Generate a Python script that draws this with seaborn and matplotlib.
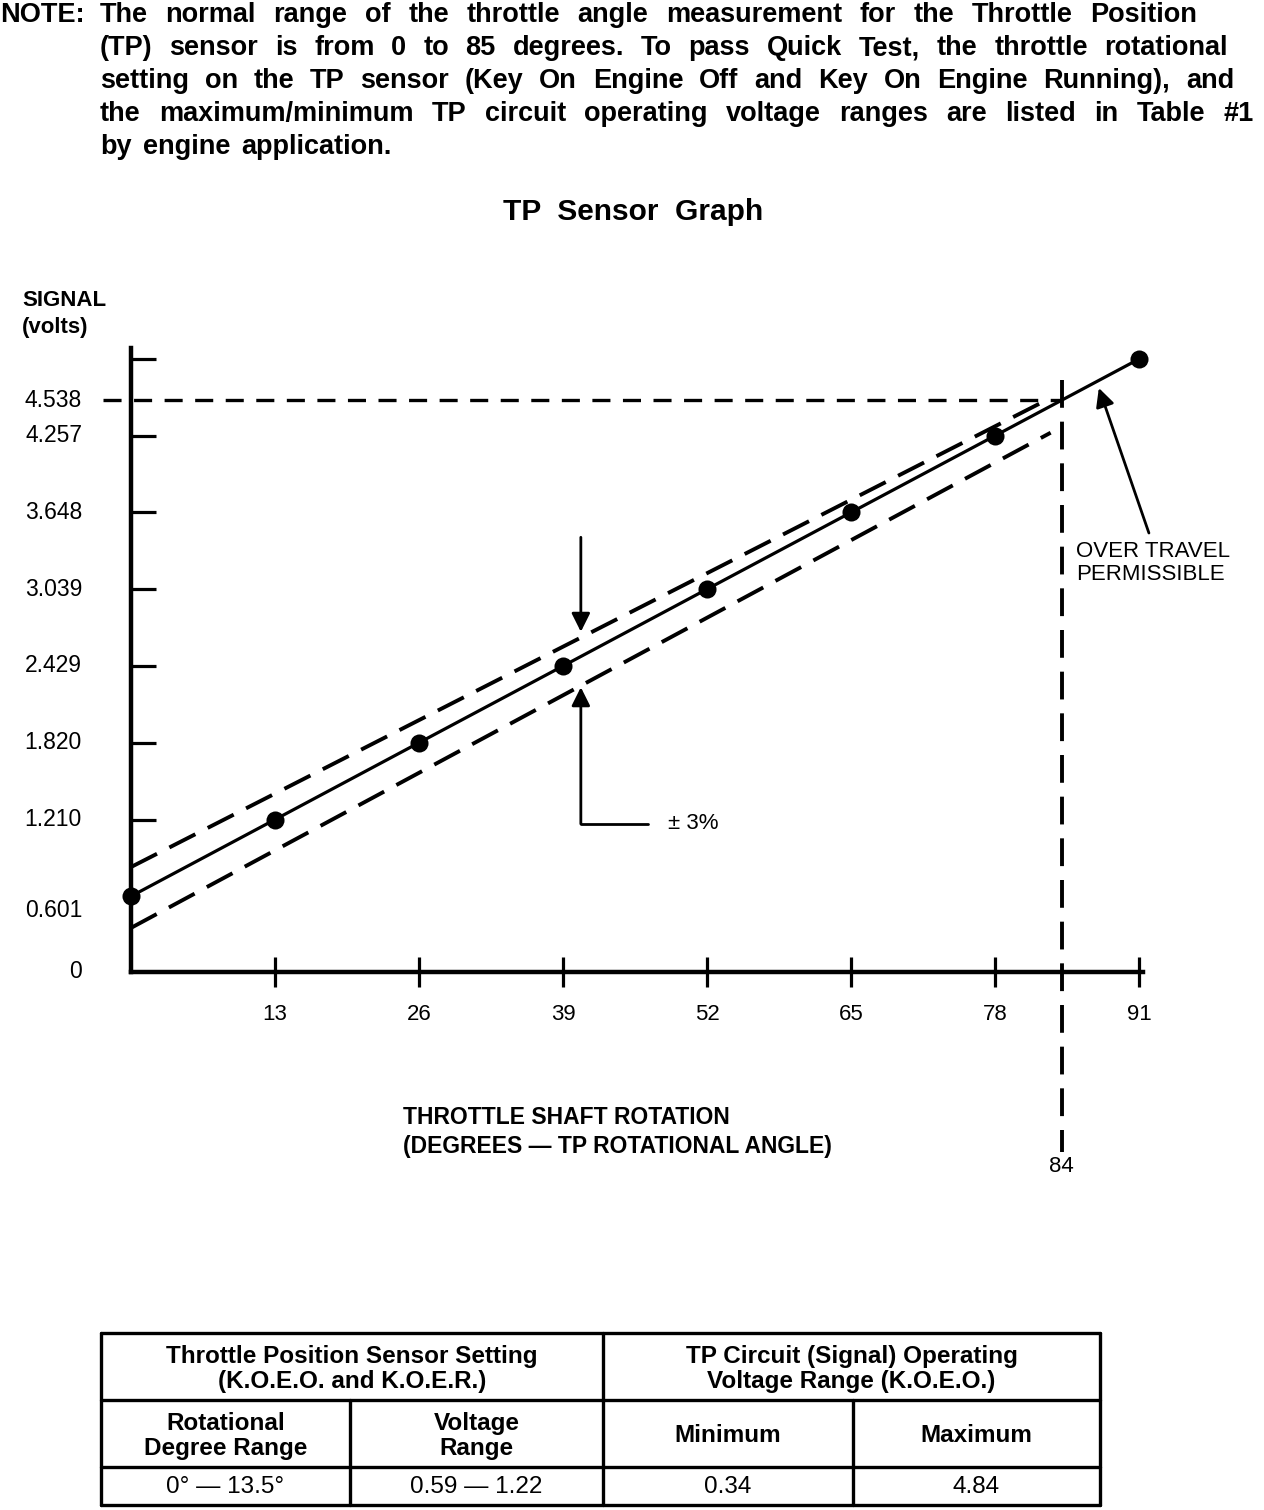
import matplotlib
matplotlib.use("Agg")
import matplotlib.pyplot as plt
import matplotlib.transforms as mtransforms
import seaborn as sns
import pandas as pd

grados = [0, 13, 26, 39, 52, 65, 78, 91]
voltios = [0.601, 1.210, 1.820, 2.429, 3.039, 3.648, 4.257, 4.866]

# bandas de +/- 3%
banda_sup_x = [0, 82.6]
banda_sup_y = [0.833, 4.538]
banda_inf_x = [0, 83.0]
banda_inf_y = [0.35, 4.28]

limite_v = 4.538
limite_grados = 84

x_marcas = [13, 26, 39, 52, 65, 78, 91]
y_marcas = [1.210, 1.820, 2.429, 3.039, 3.648, 4.257, 4.866]
y_etiquetas = ["0", "0.601", "1.210", "1.820", "2.429", "3.039", "3.648", "4.257", "4.538"]
y_valores = [0, 0.601, 1.210, 1.820, 2.429, 3.039, 3.648, 4.257, 4.538]

nota = ["The normal range of the throttle angle measurement for the Throttle Position",
        "(TP) sensor is from 0 to 85 degrees. To pass Quick Test, the throttle rotational",
        "setting on the TP sensor (Key On Engine Off and Key On Engine Running), and",
        "the maximum/minimum TP circuit operating voltage ranges are listed in Table #1",
        "by engine application."]
nota_fin = [1197, 1228, 1234, 1254, 392]

tabla_cab1 = ["Throttle Position Sensor Setting\n(K.O.E.O. and K.O.E.R.)",
              "TP Circuit (Signal) Operating\nVoltage Range (K.O.E.O.)"]
tabla_cab2 = ["Rotational\nDegree Range", "Voltage\nRange", "Minimum", "Maximum"]
tabla_fila = ["0\u00b0 \u2014 13.5\u00b0", "0.59 \u2014 1.22", "0.34", "4.84"]

sns.set_theme(style="white")
plt.rcParams['font.family'] = ['Liberation Sans', 'DejaVu Sans']
plt.rcParams['lines.scale_dashes'] = False
plt.rcParams['text.color'] = 'black'
plt.rcParams['xtick.color'] = 'black'
plt.rcParams['ytick.color'] = 'black'
plt.rcParams['xtick.labelcolor'] = 'black'

W, H = 1264, 1510
fig = plt.figure(figsize=(W / 100, H / 100), dpi=100)

# ejes principales: 0 grados en x=131 px, 0 V en y=972 px
ax = fig.add_axes([131 / W, (H - 972) / H, 1011.6 / W, 623.7 / H])
ax.set_xlim(0, 91.3)
ax.set_ylim(0, 4.95)
ax.set_facecolor("none")

# capa en pixeles para textos y tabla
axf = fig.add_axes([0, 0, 1, 1], zorder=-1)
axf.set_xlim(0, W)
axf.set_ylim(H, 0)
axf.axis("off")

df = pd.DataFrame({"grados": grados, "voltios": voltios})
sns.lineplot(data=df, x="grados", y="voltios", color="black", lw=2.3, marker="o",
             markersize=13, markeredgewidth=0, clip_on=False, ax=ax)

ax.plot(banda_sup_x, banda_sup_y, color="black", lw=2.8, dashes=(21, 10))
ax.plot(banda_inf_x, banda_inf_y, color="black", lw=2.8, dashes=(21, 10))
ax.plot([-2.5, limite_grados], [limite_v, limite_v], color="black", lw=2.4,
        dashes=(13, 9), clip_on=False)
ax.plot([limite_grados, limite_grados], [4.70, -1.43], color="black", lw=2.8,
        dashes=(20, 10), clip_on=False)

# flechas +/- 3%
flecha = dict(arrowstyle="-|>", lw=2, color="black", mutation_scale=28,
              shrinkA=0, shrinkB=0)
ax.annotate("", xy=(40.6, 2.70), xytext=(40.6, 3.45), arrowprops=flecha)
ax.annotate("", xy=(40.6, 2.26), xytext=(40.6, 1.175), arrowprops=flecha)
ax.plot([40.6, 46.7], [1.175, 1.175], color="black", lw=2)
ax.text(48.5, 1.175, "\u00b1 3%", fontsize=16, va="center", ha="left")

ax.annotate("", xy=(87.35, 4.635), xytext=(91.87, 3.484), arrowprops=flecha,
            annotation_clip=False)
ax.text(85.3, 3.42, "OVER TRAVEL\nPERMISSIBLE", fontsize=16, va="top", ha="left",
        linespacing=1.15, clip_on=False)

# ejes
sns.despine(ax=ax)
for s in ["left", "bottom"]:
    ax.spines[s].set_linewidth(3.2)
    ax.spines[s].set_color("black")
ax.set_yticks(y_marcas)
ax.set_yticklabels([])
ax.tick_params(axis="y", direction="in", length=18, width=2.3, color="black", left=True)
ax.set_xticks(x_marcas)
ax.set_xticklabels([str(v) for v in x_marcas], fontsize=16)
ax.tick_params(axis="x", direction="inout", length=22, width=2.3, color="black",
               bottom=True, pad=12)
ax.set_xlabel("")
ax.set_ylabel("")

trans_y = mtransforms.blended_transform_factory(axf.transData, ax.transData)
for et, v in zip(y_etiquetas, y_valores):
    yy = v - 0.11 if et == "0.601" else v
    axf.text(82, yy, et, transform=trans_y, fontsize=16.5, ha="right", va="center")

trans_x = mtransforms.blended_transform_factory(ax.transData, axf.transData)
axf.text(limite_grados, 1167, str(limite_grados), transform=trans_x, fontsize=16,
         ha="center", va="center")

axf.text(22, 300, "SIGNAL", fontsize=16, fontweight="bold", va="center")
axf.text(22, 327, "(volts)", fontsize=16, fontweight="bold", va="center")
axf.text(403, 1118, "THROTTLE SHAFT ROTATION", fontsize=16.5, fontweight="bold", va="center")
axf.text(403, 1146, "(DEGREES \u2014 TP ROTATIONAL ANGLE)", fontsize=16.5,
         fontweight="bold", va="center")

axf.text(633, 220, "TP  Sensor  Graph", fontsize=21.5, fontweight="bold",
         ha="center", va="baseline")

# nota justificada
rend = fig.canvas.get_renderer()
axf.text(0, 22, "NOTE:", fontsize=19.5, fontweight="bold", va="baseline")
for i, (linea, fin) in enumerate(zip(nota, nota_fin)):
    y = 22 + 33 * i
    palabras = linea.split(" ")
    objs = [axf.text(0, y, p, fontsize=19.5, fontweight="bold", va="baseline")
            for p in palabras]
    anchos = [t.get_window_extent(rend).width for t in objs]
    hueco = (fin - 100 - sum(anchos)) / (len(palabras) - 1)
    x = 100
    for t, w in zip(objs, anchos):
        t.set_x(x)
        x += w + hueco

# tabla
cols = [101, 350, 603, 853, 1100]
filas = [1333, 1400, 1467, 1505]
for y in filas:
    axf.plot([cols[0], cols[-1]], [y, y], color="black", lw=2.4)
axf.plot([cols[0], cols[0]], [filas[0], filas[-1]], color="black", lw=2.4)
axf.plot([cols[-1], cols[-1]], [filas[0], filas[-1]], color="black", lw=2.4)
axf.plot([cols[2], cols[2]], [filas[0], filas[-1]], color="black", lw=2.4)
axf.plot([cols[1], cols[1]], [filas[1], filas[-1]], color="black", lw=2.4)
axf.plot([cols[3], cols[3]], [filas[1], filas[-1]], color="black", lw=2.4)

axf.text((cols[0] + cols[2]) / 2, 1369, tabla_cab1[0], fontsize=17.5, fontweight="bold",
         ha="center", va="center", linespacing=1.15)
axf.text((cols[2] + cols[4]) / 2, 1369, tabla_cab1[1], fontsize=17.5, fontweight="bold",
         ha="center", va="center", linespacing=1.15)
for i, t in enumerate(tabla_cab2):
    axf.text((cols[i] + cols[i + 1]) / 2, 1436, t, fontsize=17.5, fontweight="bold",
             ha="center", va="center", linespacing=1.15)
for i, t in enumerate(tabla_fila):
    axf.text((cols[i] + cols[i + 1]) / 2, 1487, t, fontsize=17.5,
             ha="center", va="center")

fig.savefig("out.png", dpi=100)
